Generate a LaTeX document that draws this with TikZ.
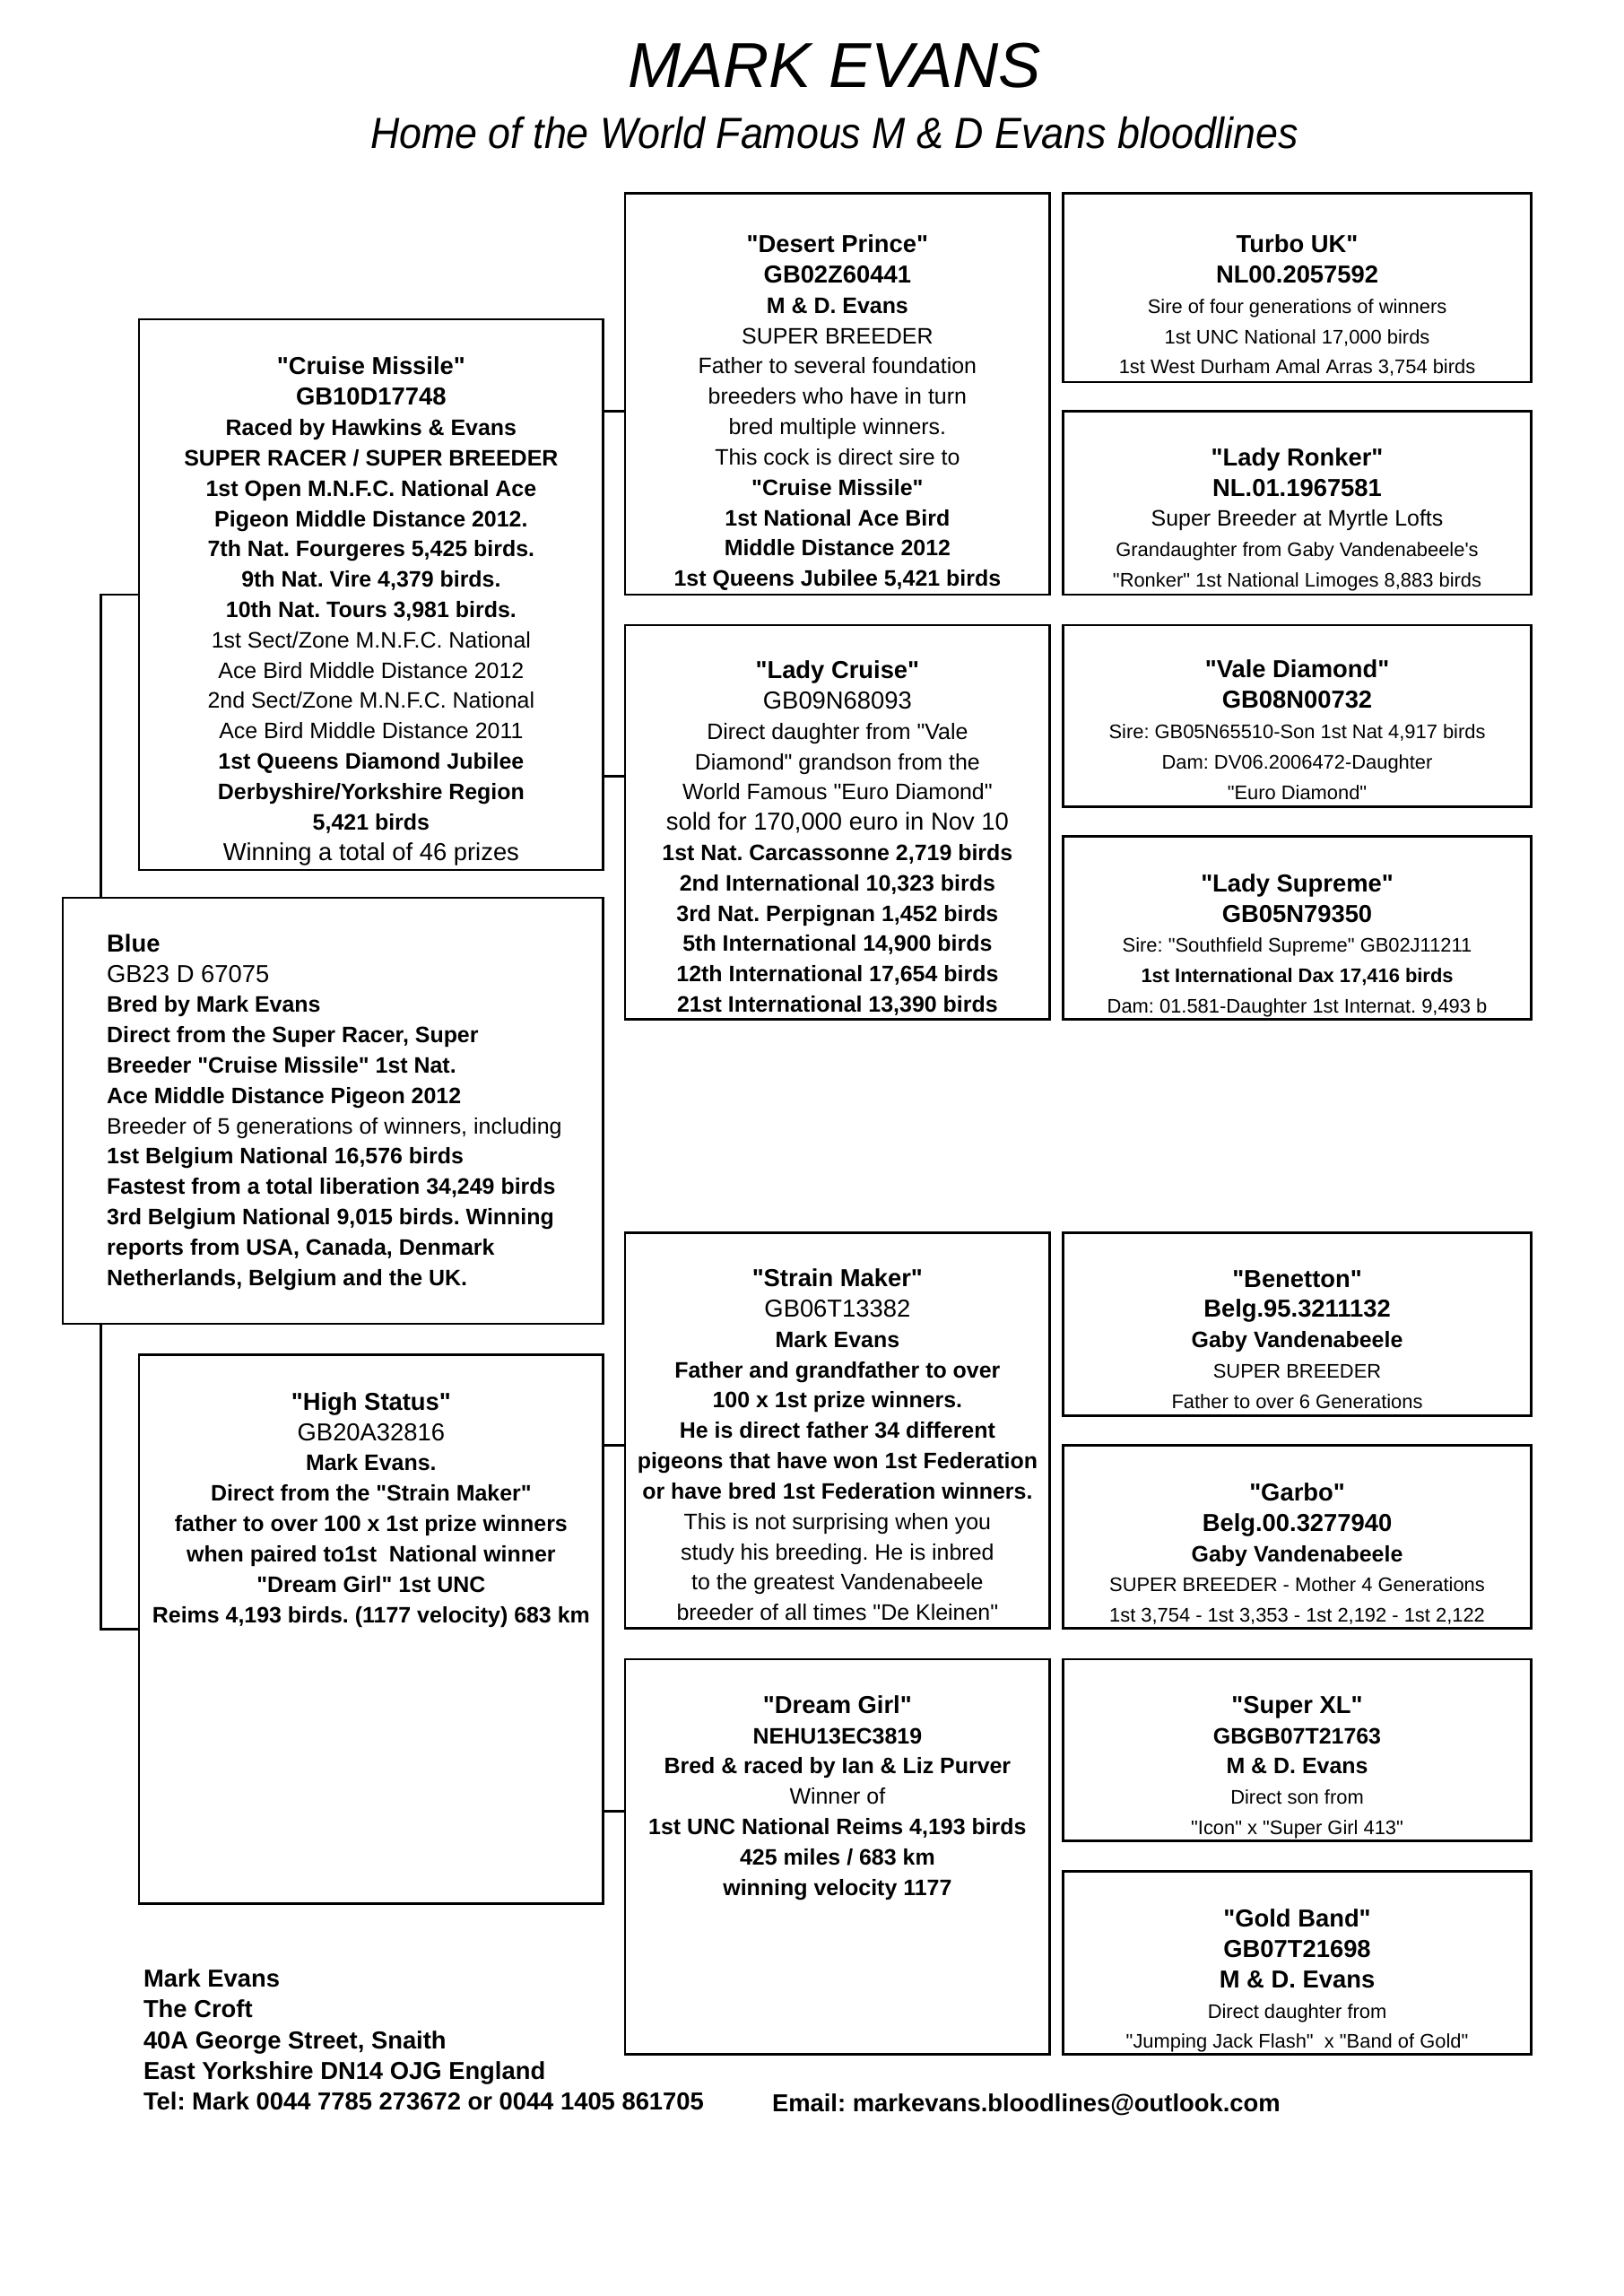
\documentclass[tikz,border=0pt]{standalone}
\usepackage{fontspec}
\setmainfont{Liberation Sans}
\newfontfamily\af{Liberation Sans}
\newfontfamily\afn{Liberation Sans}[FakeStretch=0.92]
\usetikzlibrary{calc}
\newcommand\pF{\rule{0pt}{12pt}}
\newcommand\pN{\af\fontsize{9}{11.12}\selectfont\bfseries}
\newcommand\pB{\af\fontsize{8.2}{11.12}\selectfont\bfseries}
\newcommand\pR{\af\fontsize{8.2}{11.12}\selectfont\mdseries}
\newcommand\pRR{\af\fontsize{9}{11.12}\selectfont\mdseries}
\newcommand\pSm{\af\fontsize{7.2}{11.12}\selectfont\mdseries}
\newcommand\pSB{\af\fontsize{7.2}{11.12}\selectfont\bfseries}
\newcommand\pFoot{\af\fontsize{9}{11.27}\selectfont\bfseries}
\newcommand\pbox[5]{\node[box, anchor=north west, minimum width={(#4-#2)*0.5368pt}, minimum height={(#5-#3)*0.5368pt}] (#1) at (#2,#3) {};}
\begin{document}
\frenchspacing
\lineskiplimit=-30pt
\lineskip=0pt
\begin{tikzpicture}[x=0.5368pt,y=-0.5368pt,
  box/.style={draw, line width=0.85pt, inner sep=0pt, outer sep=0pt},
  tx/.style={align=center, inner sep=0pt, outer sep=0pt, anchor=north, font=\pR},
  txl/.style={align=left, inner sep=0pt, outer sep=0pt, anchor=north west, font=\pR},
  link/.style={line width=0.85pt}]
\useasboundingbox (0,0) rectangle (1109,1568);
\fill[white] (0,0) rectangle (1109,1568);

% title
\node[anchor=base, inner sep=0pt, font=\af\fontsize{23.3}{28}\selectfont\itshape] (title) at (570,60) {MARK EVANS};
\node[anchor=base, inner sep=0pt, font=\afn\fontsize{16}{18}\selectfont\itshape] (subtitle) at (570,101.5) {Home of the World Famous M \& D Evans bloodlines};

% boxes
\pbox{cm}{95}{218}{412}{594}
\pbox{dp}{427}{132}{717}{406}
\pbox{tu}{726}{132}{1046}{261}
\pbox{lr}{726}{281}{1046}{406}
\pbox{lc}{427}{427}{717}{696}
\pbox{vd}{726}{427}{1046}{551}
\pbox{ls}{726}{571}{1046}{696}
\pbox{bl}{43}{613}{412}{904}
\pbox{hs}{95}{925}{412}{1300}
\pbox{sm}{427}{842}{717}{1112}
\pbox{be}{726}{842}{1046}{967}
\pbox{ga}{726}{987}{1046}{1112}
\pbox{dg}{427}{1133}{717}{1403}
\pbox{sx}{726}{1133}{1046}{1257}
\pbox{gb}{726}{1278}{1046}{1403}

% texts
\node[tx] (cmt) at (253.5,233.65) {\pF\pN "Cruise Missile"\\ \pN GB10D17748\\ \pB Raced by Hawkins \& Evans\\ \pB SUPER RACER / SUPER BREEDER\\ \pB 1st Open M.N.F.C. National Ace\\ \pB Pigeon Middle Distance 2012.\\ \pB 7th Nat. Fourgeres 5,425 birds.\\ \pB 9th Nat. Vire 4,379 birds.\\ \pB 10th Nat. Tours 3,981 birds.\\ \pR 1st Sect/Zone M.N.F.C. National\\ \pR Ace Bird Middle Distance 2012\\ \pR 2nd Sect/Zone M.N.F.C. National\\ \pR Ace Bird Middle Distance 2011\\ \pB 1st Queens Diamond Jubilee\\ \pB Derbyshire/Yorkshire Region\\ \pB 5,421 birds\\ \pRR Winning a total of 46 prizes};

\node[tx] (dpt) at (572,150.15) {\pF\pN "Desert Prince"\\ \pN GB02Z60441\\ \pB M \& D. Evans\\ \pR SUPER BREEDER\\ \pR Father to several foundation\\ \pR breeders who have in turn\\ \pR bred multiple winners.\\ \pR This cock is direct sire to\\ \pB "Cruise Missile"\\ \pB 1st National Ace Bird\\ \pB Middle Distance 2012\\ \pB 1st Queens Jubilee 5,421 birds};

\node[tx] (tut) at (886,150.15) {\pF\pN Turbo UK"\\ \pN NL00.2057592\\ \pSm Sire of four generations of winners\\ \pSm 1st UNC National 17,000 birds\\ \pSm 1st West Durham Amal Arras 3,754 birds};

\node[tx] (lrt) at (886,295.65) {\pF\pN "Lady Ronker"\\ \pN NL.01.1967581\\ \pR Super Breeder at Myrtle Lofts\\ \pSm Grandaughter from Gaby Vandenabeele's\\ \pSm "Ronker" 1st National Limoges 8,883 birds};

\node[tx] (lct) at (572,441.05) {\pF\pN "Lady Cruise"\\ \pRR GB09N68093\\ \pR Direct daughter from "Vale\\ \pR Diamond" grandson from the\\ \pR World Famous "Euro Diamond"\\ \pRR sold for 170,000 euro in Nov 10\\ \pB 1st Nat. Carcassonne 2,719 birds\\ \pB 2nd International 10,323 birds\\ \pB 3rd Nat. Perpignan 1,452 birds\\ \pB 5th International 14,900 birds\\ \pB 12th International 17,654 birds\\ \pB 21st International 13,390 birds};

\node[tx] (vdt) at (886,440.65) {\pF\pN "Vale Diamond"\\ \pN GB08N00732\\ \pSm Sire: GB05N65510-Son 1st Nat 4,917 birds\\ \pSm Dam: DV06.2006472-Daughter\\ \pSm "Euro Diamond"};

\node[tx] (lst) at (886,586.65) {\pF\pN "Lady Supreme"\\ \pN GB05N79350\\ \pSm Sire: "Southfield Supreme" GB02J11211\\ \pSB 1st International Dax 17,416 birds\\ \pSm Dam: 01.581-Daughter 1st Internat. 9,493 b};

\node[txl] (blt) at (73,627.65) {\pF\pN Blue\\ \pRR GB23 D 67075\\ \pB Bred by Mark Evans\\ \pB Direct from the Super Racer, Super\\ \pB Breeder "Cruise Missile" 1st Nat.\\ \pB Ace Middle Distance Pigeon 2012\\ \pR Breeder of 5 generations of winners, including\\ \pB 1st Belgium National 16,576 birds\\ \pB Fastest from a total liberation 34,249 birds\\ \pB 3rd Belgium National 9,015 birds. Winning\\ \pB reports from USA, Canada, Denmark\\ \pB Netherlands, Belgium and the UK.};

\node[tx] (hst) at (253.5,940.65) {\pF\pN "High Status"\\ \pRR GB20A32816\\ \pB Mark Evans.\\ \pB Direct from the "Strain Maker"\\ \pB father to over 100 x 1st prize winners\\ \pB when paired to1st\ \ National winner\\ \pB "Dream Girl" 1st UNC\\ \pB Reims 4,193 birds. (1177 velocity) 683 km};

\node[tx] (smt) at (572,856.35) {\pF\pN "Strain Maker"\\ \pRR GB06T13382\\ \pB Mark Evans\\ \pB Father and grandfather to over\\ \pB 100 x 1st prize winners.\\ \pB He is direct father 34 different\\ \pB pigeons that have won 1st Federation\\ \pB or have bred 1st Federation winners.\\ \pR This is not surprising when you\\ \pR study his breeding. He is inbred\\ \pR to the greatest Vandenabeele\\ \pR breeder of all times "De Kleinen"};

\node[tx] (bet) at (886,856.65) {\pF\pN "Benetton"\\ \pN Belg.95.3211132\\ \pB Gaby Vandenabeele\\ \pSm SUPER BREEDER\\ \pSm Father to over 6 Generations};

\node[tx] (gat) at (886,1002.65) {\pF\pN "Garbo"\\ \pN Belg.00.3277940\\ \pB Gaby Vandenabeele\\ \pSm SUPER BREEDER - Mother 4 Generations\\ \pSm 1st 3,754 - 1st 3,353 - 1st 2,192 - 1st 2,122};

\node[tx] (dgt) at (572,1147.65) {\pF\pN "Dream Girl"\\ \pB NEHU13EC3819\\ \pB Bred \& raced by Ian \& Liz Purver\\ \pR Winner of\\ \pB 1st UNC National Reims 4,193 birds\\ \pB 425 miles / 683 km\\ \pB winning velocity 1177};

\node[tx] (sxt) at (886,1147.65) {\pF\pN "Super XL"\\ \pB GBGB07T21763\\ \pB M \& D. Evans\\ \pSm Direct son from\\ \pSm "Icon" x "Super Girl 413"};

\node[tx] (gbt) at (886,1293.65) {\pF\pN "Gold Band"\\ \pN GB07T21698\\ \pN M \& D. Evans\\ \pSm Direct daughter from\\ \pSm "Jumping Jack Flash"\ \ x "Band of Gold"};

% footer
\node[txl, font=\pFoot] (addr) at (98,1334.65) {\pF Mark Evans\\ The Croft\\ 40A George Street, Snaith\\ East Yorkshire DN14 OJG England\\ Tel: Mark 0044 7785 273672 or 0044 1405 861705};
\node[anchor=base west, inner sep=0pt, font=\pFoot] (email) at (527,1442) {Email: markevans.bloodlines@outlook.com};

% connectors
\coordinate (lx) at (69,0);
\coordinate (t1) at (0,281);
\coordinate (t2) at (0,530);
\coordinate (t3) at (0,987);
\coordinate (t4) at (0,1237);
\draw[link] (cm.west) -| (lx |- bl.north);
\draw[link] (lx |- bl.south) |- (hs.west);
\draw[link] (cm.east |- t1) -- (dp.west |- t1);
\draw[link] (cm.east |- t2) -- (lc.west |- t2);
\draw[link] (hs.east |- t3) -- (sm.west |- t3);
\draw[link] (hs.east |- t4) -- (dg.west |- t4);
\end{tikzpicture}
\end{document}
